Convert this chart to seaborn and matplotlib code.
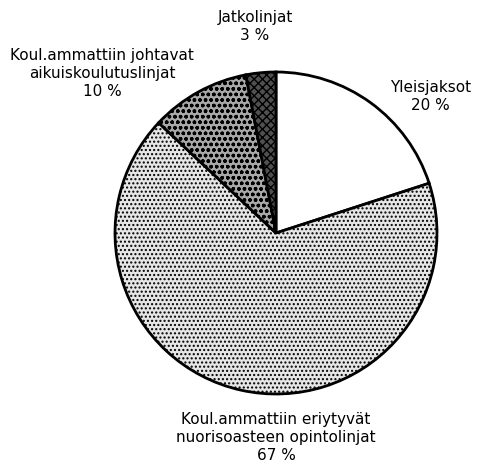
import matplotlib
matplotlib.use("Agg")
import matplotlib.pyplot as plt
import seaborn as sns

sns.set_style("white")
plt.rcParams["font.family"] = ["DejaVu Sans"]
plt.rcParams["hatch.linewidth"] = 1.0

labels = ["Yleisjaksot", "Koul.ammattiin eriytyvät\nnuorisoasteen opintolinjat",
          "Koul.ammattiin johtavat\naikuiskoulutuslinjat", "Jatkolinjat"]
shares = [20, 67, 10, 3]
colors = ["white", "#e6e6e6", "#a8a8a8", "#505050"]
hatches = ["", "....", "ooo", "xxxx"]

# label positions in axes data units (pie radius = 1)
label_pos = [(0.96, 0.85), (0.0, -1.27), (-1.08, 0.99), (-0.13, 1.28)]

fig = plt.figure(figsize=(4.93, 4.63), dpi=100)
ax = fig.add_axes([115 / 493, 69 / 463, 322 / 493, 322 / 463])

wedges, _ = ax.pie(shares, colors=colors, startangle=90, counterclock=False,
                   radius=1, wedgeprops=dict(edgecolor="black", linewidth=2))
for w, h in zip(wedges, hatches):
    if h:
        w.set_hatch(h)

for lab, val, (x, y) in zip(labels, shares, label_pos):
    ax.text(x, y, f"{lab}\n{val} %", ha="center", va="center",
            fontsize=11, linespacing=1.25, color="black")

ax.set_xlim(-1, 1)
ax.set_ylim(-1, 1)
ax.set_aspect("equal")
ax.axis("off")

fig.savefig("out.png", dpi=100)
